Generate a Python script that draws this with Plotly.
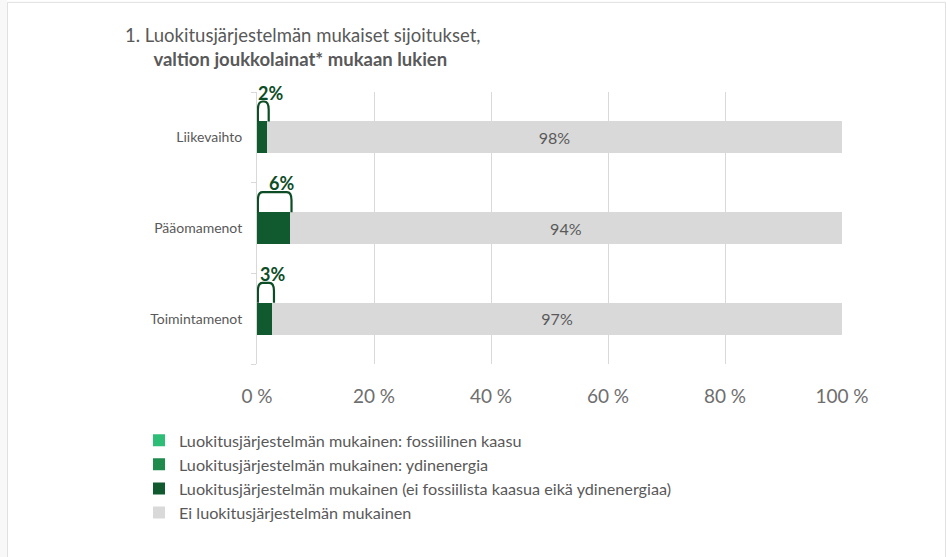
import plotly.graph_objects as go

categories = ["Liikevaihto", "Pääomamenot", "Toimintamenot"]
fossil_gas = [0, 0, 0]
nuclear = [0, 0, 0]
aligned_other = [1.7, 5.6, 2.6]
not_aligned = [98.3, 94.4, 97.4]
aligned_labels = ["2%", "6%", "3%"]
x_ticks = [0, 20, 40, 60, 80, 100]
x_tick_labels = ["0 %", "20 %", "40 %", "60 %", "80 %", "100 %"]

series_names = [
    "Luokitusjärjestelmän mukainen: fossiilinen kaasu",
    "Luokitusjärjestelmän mukainen: ydinenergia",
    "Luokitusjärjestelmän mukainen (ei fossiilista kaasua eikä ydinenergiaa)",
    "Ei luokitusjärjestelmän mukainen",
]
colors = ["#2EBD77", "#1E8B4C", "#115A30", "#D9D9D9"]

FONT = "Lato"
GRAY = "#595959"
DARK = "#0D4D26"
BAR_W = 0.35

# layout geometry (pixels)
W, H = 946, 557
L, R, T, B = 257, 104, 91.5, 192.5
PW, PH = W - L - R, H - T - B


def px(xp):
    return (xp - L) / PW


def py(yp):
    return (H - B - yp) / PH


ypos = list(range(len(categories)))

fig = go.Figure()
for name, vals, col in zip(series_names, [fossil_gas, nuclear, aligned_other, not_aligned], colors):
    show_text = name == series_names[3]
    fig.add_trace(go.Bar(
        y=ypos, x=vals, orientation="h", name=name,
        marker=dict(color=col, line=dict(width=0)),
        width=BAR_W,
        text=[f"{v:.0f}%" for v in vals] if show_text else None,
        textposition="inside" if show_text else "none",
        insidetextanchor="middle",
        textfont=dict(family=FONT, size=16, color=GRAY),
        hoverinfo="x+name",
    ))

# callout brackets and labels for the aligned share
shapes = []
annotations = []
for i, (v, lab) in enumerate(zip(aligned_other, aligned_labels)):
    y_bot = i - BAR_W / 2
    y_top = y_bot - 0.22
    x0, x1 = 0.15, v + 0.3
    rx, ry = 0.8, 0.09
    path = (f"M {x0},{y_bot} L {x0},{y_top + ry} Q {x0},{y_top} {x0 + rx},{y_top} "
            f"L {x1 - rx},{y_top} Q {x1},{y_top} {x1},{y_top + ry} L {x1},{y_bot}")
    shapes.append(dict(type="path", path=path, xref="x", yref="y",
                       line=dict(color=DARK, width=2.2), layer="above"))
    annotations.append(dict(x=(x0 + x1) / 2 + 1.2, y=y_top, xref="x", yref="y",
                            text=f"<b>{lab}</b>", showarrow=False, yanchor="bottom",
                            yshift=-4, font=dict(family=FONT, size=18, color=DARK)))

# title (two lines, second one indented and bold)
annotations.append(dict(x=px(123), y=py(46.5), xref="paper", yref="paper", xanchor="left",
                        yanchor="middle", showarrow=False, align="left",
                        text=("1. Luokitusjärjestelmän mukaiset sijoitukset,<br>"
                              "&nbsp;&nbsp;&nbsp;&nbsp;&nbsp;&nbsp;"
                              "<b>valtion joukkolainat* mukaan lukien</b>"),
                        font=dict(family=FONT, size=18.5, color=GRAY)))

# outer border
shapes.append(dict(type="rect", xref="paper", yref="paper", x0=px(-2), x1=px(7),
                   y0=py(-2), y1=py(560), line=dict(width=0),
                   fillcolor="#F8F8F8", layer="below"))
shapes.append(dict(type="rect", xref="paper", yref="paper", x0=px(7.5), x1=px(945.5),
                   y0=py(1.5), y1=py(560), line=dict(color="#E0E0E0", width=1),
                   fillcolor="rgba(0,0,0,0)", layer="below"))

fig.update_layout(
    width=W, height=H,
    margin=dict(l=L, r=R, t=T, b=B, pad=0),
    barmode="stack",
    paper_bgcolor="white", plot_bgcolor="white",
    font=dict(family=FONT, color=GRAY),
    showlegend=True,
    legend=dict(orientation="v", x=px(139), y=py(424), xanchor="left", yanchor="top",
                font=dict(family=FONT, size=16.2, color=GRAY), traceorder="normal",
                itemwidth=30, tracegroupgap=0, bgcolor="rgba(0,0,0,0)"),
    shapes=shapes,
    annotations=annotations,
    xaxis=dict(range=[0, 100], tickvals=x_ticks, ticktext=x_tick_labels,
               showgrid=True, gridcolor="#D9D9D9", gridwidth=1, zeroline=False,
               showline=False, ticks="", ticklabelstandoff=19,
               tickfont=dict(family=FONT, size=19, color="#6E6E6E"), fixedrange=True),
    yaxis=dict(range=[2.5, -0.5], tickvals=ypos, ticktext=categories,
               showgrid=False, zeroline=False, showline=True, linecolor="#D9D9D9",
               linewidth=1, ticks="outside", ticklen=0, ticklabelstandoff=11,
               tickfont=dict(family=FONT, size=14, color=GRAY),
               minor=dict(tickvals=[-0.5, 0.5, 1.5, 2.5], ticks="outside", ticklen=5,
                          tickcolor="#D9D9D9", tickwidth=1),
               fixedrange=True),
)

fig.write_html("out.html", config={"displayModeBar": False},
               post_script="document.body.style.margin='0';")
